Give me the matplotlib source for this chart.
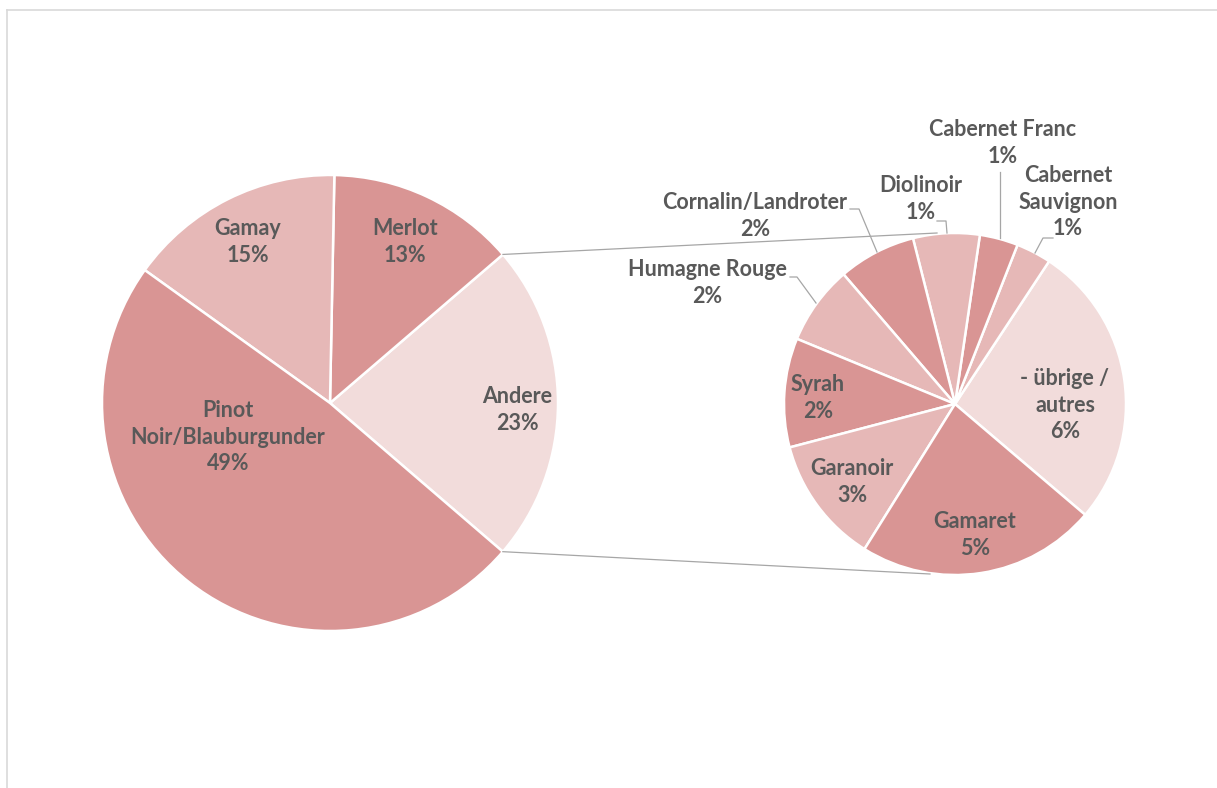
import numpy as np
import matplotlib.pyplot as plt
from matplotlib.lines import Line2D

# main pie
main_labels = ["Andere", "Merlot", "Gamay", "Pinot\nNoir/Blauburgunder"]
main_values = [22.6, 13.4, 15.4, 48.6]

# secondary pie (breakdown of "Andere")
sub_labels = ["- übrige /\nautres", "Cabernet\nSauvignon", "Cabernet Franc",
              "Diolinoir", "Cornalin/Landroter", "Humagne Rouge", "Syrah",
              "Garanoir", "Gamaret"]
sub_values = [6.09, 0.75, 0.82, 1.42, 1.66, 1.69, 2.33, 2.72, 5.12]

DARK = "#D99594"
MID = "#E6B8B7"
LIGHT = "#F2DCDB"
TXT = "#595959"

main_colors = [LIGHT, DARK, MID, DARK]
sub_colors = [LIGHT, MID, DARK, MID, DARK, MID, DARK, MID, DARK]

W, H = 1217, 788


def py(y):
    # pixel row -> data y
    return H - y


fig = plt.figure(figsize=(W / 100, H / 100), dpi=100)
ax = fig.add_axes([0, 0, 1, 1])

main_c = (330, py(403))
main_r = 228
sub_c = (955, py(404))
sub_r = 171

wp = dict(edgecolor="white", linewidth=1.8)
main_w, _ = ax.pie(main_values, colors=main_colors, startangle=-40.7,
                   center=main_c, radius=main_r, wedgeprops=wp)
sub_w, _ = ax.pie(sub_values, colors=sub_colors, startangle=-40.4,
                  center=sub_c, radius=sub_r, wedgeprops=wp)

ax.set_xlim(0, W)
ax.set_ylim(0, H)
ax.set_aspect("equal")
ax.axis("off")

font = dict(family=["Lato", "DejaVu Sans"], fontsize=15.5, fontweight="bold",
            color=TXT, ha="center", va="center", linespacing=1.35)


def pct(v):
    return f"{round(v):.0f}%"


# label centres (pixels) for main pie
main_pos = [(517, 410), (405, 242), (248, 242), (228, 437)]
for lab, v, (x, y) in zip(main_labels, main_values, main_pos):
    ax.text(x, py(y), f"{lab}\n{pct(v)}", **font)

# label centres for secondary pie
sub_pos = [(1065, 405), (1068, 202), (1003, 143), (921, 199), (755, 216),
           (707, 283), (818, 398), (852, 482), (975, 535)]
for lab, v, (x, y) in zip(sub_labels, sub_values, sub_pos):
    ax.text(x, py(y), f"{lab}\n{pct(v)}", **font)

# leader lines for outside labels
leaders = [
    [(1053, 238), (1043, 238), (1035, 253)],
    [(1000, 172), (1000, 238)],
    [(937, 221), (946, 221), (947, 233)],
    [(850, 209), (859, 209), (877, 252)],
    [(790, 277), (797, 277), (816, 303)],
]
for pts in leaders:
    xs = [p[0] for p in pts]
    ys = [py(p[1]) for p in pts]
    ax.plot(xs, ys, color="#A6A6A6", lw=0.9)

# connector lines between the pies, from the edges of the "Andere" wedge
w = main_w[0]
for ang, tgt in [(w.theta2, (937, 233)), (w.theta1, (930, 574))]:
    a = np.deg2rad(ang)
    x0 = main_c[0] + main_r * np.cos(a)
    y0 = main_c[1] + main_r * np.sin(a)
    ax.plot([x0, tgt[0]], [y0, py(tgt[1])], color="#A6A6A6", lw=0.9)

# chart frame
fig.add_artist(Line2D([7 / W, 7 / W], [0, 1 - 10 / H],
                      transform=fig.transFigure, color="#D9D9D9", lw=1.2))
fig.add_artist(Line2D([7 / W, 1], [1 - 10 / H, 1 - 10 / H],
                      transform=fig.transFigure, color="#D9D9D9", lw=1.2))

fig.savefig("out.png", dpi=100)
